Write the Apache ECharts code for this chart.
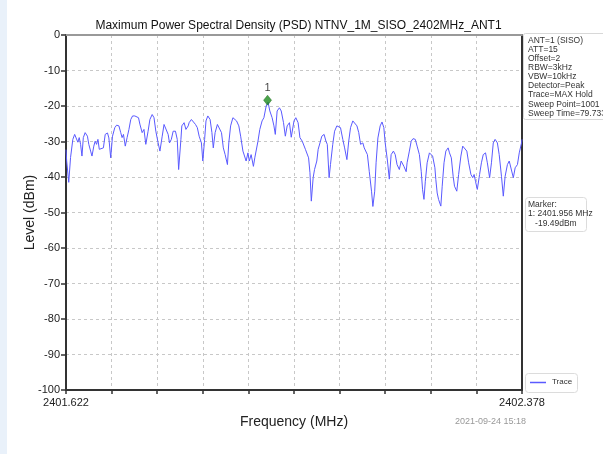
<!DOCTYPE html>
<html>
<head>
<meta charset="utf-8">
<script src="https://cdn.jsdelivr.net/npm/echarts@6/dist/echarts.min.js"></script>
<style>
html,body{margin:0;padding:0;background:#fff;}
#c{width:603px;height:454px;}
</style>
</head>
<body>
<div id="c"></div>
<script>
const title = 'Maximum Power Spectral Density (PSD) NTNV_1M_SISO_2402MHz_ANT1';
const startMHz = 2401.622;
const stopMHz = 2402.378;
const sweepPoints = 1001;
const yTicks = [0, -10, -20, -30, -40, -50, -60, -70, -80, -90, -100];
const infoLines = ['ANT=1 (SISO)', 'ATT=15', 'Offset=2', 'RBW=3kHz', 'VBW=10kHz', 'Detector=Peak', 'Trace=MAX Hold', 'Sweep Point=1001', 'Sweep Time=79.733ms'];
const markerLines = ['Marker:', '1: 2401.956 MHz', '   -19.49dBm'];
const markerPoint = 442;
const markerLevel = -19.49;
const timestamp = '2021-09-24 15:18';

const sweepIndex = [0,1.5,6,10,15,19,23,26,29,32,35,38,42,47,50,54,57,61,64,67,70,73,77,82,86,91,94,98,102,107,111,116,120,123,126,130,134,138,142,146,151,155,159,162,167,171,175,180,184,189,193,197,202,206,211,215,219,224,227,231,235,240,244,247,252,254,259,263,268,270,275,279,284,288,292,297,300,304,307,311,316,320,323,327,332,336,341,345,349,354,357,361,366,370,374,379,383,388,392,395,399,402,406,411,414,418,421,425,430,434,439,443,447,452,456,459,463,468,472,477,481,485,490,494,500,504,509,513,518,520,525,529,532,535,538,542,545,550,553,557,561,566,570,573,577,580,585,589,594,598,602,607,611,616,620,624,629,633,638,642,646,651,654,656,661,665,670,673,677,680,684,689,693,697,700,705,709,713,718,722,726,731,735,741,746,748,753,757,761,766,770,775,779,782,785,788,792,797,801,804,809,811,814,817,822,825,829,833,838,841,845,849,852,857,861,866,870,874,879,883,888,892,895,898,902,907,911,915,920,924,929,933,937,941,946,950,955,959,963,968,972,976,981,985,990,994,999,1000];
const levelDbm = [-32.3,-35.5,-41.5,-34.5,-29.4,-28.0,-28.5,-30.2,-28.9,-30.8,-34.1,-28.9,-27.5,-28.5,-30.8,-32.7,-34.1,-31.3,-29.9,-30.8,-29.4,-32.2,-32.7,-31.8,-28.0,-27.6,-29.0,-34.6,-28.5,-26.1,-25.4,-25.6,-27.5,-28.9,-28.0,-31.3,-28.9,-26.6,-23.8,-22.8,-22.8,-23.1,-23.3,-25.1,-27.5,-26.6,-30.8,-27.1,-23.8,-22.4,-23.3,-27.1,-30.4,-32.7,-28.5,-25.2,-24.7,-28.0,-30.4,-29.4,-27.1,-27.1,-29.4,-37.9,-29.4,-25.6,-24.7,-26.6,-25.6,-24.7,-23.8,-23.8,-25.2,-26.1,-28.5,-30.4,-35.5,-29.4,-24.2,-22.8,-23.8,-27.5,-31.8,-27.5,-25.2,-24.7,-27.5,-31.8,-33.7,-36.5,-30.4,-25.6,-23.3,-22.8,-24.2,-25.6,-28.5,-32.7,-32.7,-35.5,-33.2,-35.5,-33.7,-37.0,-34.6,-35.1,-29.9,-26.6,-24.2,-23.3,-20.0,-18.9,-21.4,-23.3,-25.6,-28.0,-21.4,-20.5,-21.4,-24.7,-28.5,-25.6,-24.7,-28.8,-24.2,-23.3,-24.7,-28.9,-29.9,-29.4,-32.2,-32.2,-34.6,-38.8,-46.8,-40.2,-37.9,-35.5,-32.2,-30.4,-28.5,-28.0,-29.9,-30.8,-40.2,-36.5,-30.8,-27.1,-25.6,-25.2,-26.1,-29.4,-31.8,-35.1,-29.9,-26.1,-24.2,-23.8,-25.6,-27.5,-30.8,-30.4,-31.8,-31.3,-33.7,-38.4,-44.0,-48.3,-44.0,-36.0,-29.0,-25.6,-24.5,-26.1,-30.4,-35.5,-40.6,-33.7,-32.7,-33.7,-36.5,-37.9,-35.5,-37.0,-38.5,-36.0,-32.7,-29.9,-29.2,-29.4,-31.3,-33.7,-38.4,-43.6,-46.3,-41.2,-36.0,-33.2,-32.7,-34.1,-37.4,-40.7,-44.5,-46.3,-48.2,-42.6,-36.0,-32.7,-31.8,-33.2,-34.6,-39.8,-42.6,-44.0,-39.3,-34.1,-31.3,-31.1,-32.7,-36.0,-39.3,-40.2,-39.3,-41.2,-43.5,-39.3,-36.0,-33.7,-33.2,-36.0,-40.2,-36.0,-30.4,-29.4,-30.4,-33.7,-39.8,-45.4,-39.8,-36.5,-35.5,-36.0,-40.2,-37.4,-36.5,-33.2,-30.4,-29.4,-30.0];

const step = (stopMHz - startMHz) / (sweepPoints - 1);
const traceData = sweepIndex.map((p, i) => [p, levelDbm[i]]);
const FONT = 'Liberation Sans, Arial, sans-serif';

const chart = echarts.init(document.getElementById('c'));
const infoGraphics = infoLines.map((t, i) => ({
  type: 'text', left: 528, top: 36 + i * 9.1,
  style: { text: t, font: '8.5px ' + FONT, fill: '#333' }, z: 10
}));
const markerGraphics = markerLines.map((t, i) => ({
  type: 'text', left: 528, top: 200 + i * 9.6,
  style: { text: t, font: '8.5px ' + FONT, fill: '#333' }, z: 10
}));

chart.setOption({
  animation: false,
  backgroundColor: '#ffffff',
  title: {
    text: title, left: 293.5, textAlign: 'center', top: 15,
    textStyle: { fontSize: 12, fontWeight: 'normal', color: '#111', fontFamily: FONT }
  },
  grid: { left: 66, right: 81, top: 35, bottom: 64 },
  xAxis: [{
    type: 'value', min: 0, max: sweepPoints - 1, interval: 100,
    name: 'Frequency (MHz)', nameLocation: 'middle', nameGap: 25,
    nameTextStyle: { fontSize: 14, color: '#222', fontFamily: FONT },
    axisLine: { show: true, onZero: false, lineStyle: { color: '#333', width: 2 } },
    axisTick: { show: true, length: 4, lineStyle: { color: '#333', width: 1.5 } },
    axisLabel: {
      show: true, fontSize: 11, color: '#222', fontFamily: FONT, margin: 7,
      formatter: v => (v === 0 || v === sweepPoints - 1) ? (startMHz + v * step).toFixed(3) : ''
    },
    splitLine: { show: true, lineStyle: { color: '#c8c8c8', type: [3, 3], width: 1 } }
  }, {
    type: 'value', position: 'top', min: 0, max: sweepPoints - 1,
    axisLine: { show: true, onZero: false, lineStyle: { color: '#999', width: 2 } },
    axisTick: { show: false }, axisLabel: { show: false }, splitLine: { show: false }
  }],
  yAxis: [{
    type: 'value', min: -100, max: 0, interval: 10,
    name: 'Level (dBm)', nameLocation: 'middle', nameGap: 29, nameMoveOverlap: false,
    nameTextStyle: { fontSize: 14, color: '#222', fontFamily: FONT },
    axisLine: { show: true, onZero: false, lineStyle: { color: '#333', width: 2 } },
    axisTick: { show: true, length: 5, lineStyle: { color: '#333', width: 1.5 } },
    axisLabel: { fontSize: 11, color: '#222', fontFamily: FONT, margin: 6,
      formatter: v => yTicks.includes(v) ? String(v) : '' },
    splitLine: { show: true, lineStyle: { color: '#c8c8c8', type: [3, 3], width: 1 } }
  }, {
    type: 'value', position: 'right', min: -100, max: 0,
    axisLine: { show: true, onZero: false, lineStyle: { color: '#333', width: 2 } },
    axisTick: { show: false }, axisLabel: { show: false }, splitLine: { show: false }
  }],
  series: [{
    name: 'Trace', type: 'line', data: traceData, showSymbol: false,
    lineStyle: { color: '#5a5aff', width: 1 }, itemStyle: { color: '#5a5aff' }, z: 3
  }, {
    name: 'Marker', type: 'scatter', data: [[markerPoint, markerLevel]],
    symbol: 'diamond', symbolSize: [8, 10], symbolOffset: [0, -4],
    itemStyle: { color: '#1e8c1e', borderColor: '#0f5f0f', borderWidth: 0.5 },
    label: { show: true, position: 'top', distance: 1, formatter: '1', fontSize: 11, color: '#111', fontFamily: FONT },
    z: 5
  }],
  graphic: [
    { type: 'rect', left: 0, top: 0, shape: { width: 7, height: 454 }, style: { fill: '#e9f1fa' }, z: -1 },
    { type: 'rect', left: 523, top: 33, shape: { width: 84, height: 86, r: 2 }, style: { fill: '#fff', stroke: '#d8d8d8', lineWidth: 1 }, z: 9 },
    ...infoGraphics,
    { type: 'rect', left: 525, top: 197, shape: { width: 61, height: 34, r: 3 }, style: { fill: '#fff', stroke: '#dcdcdc', lineWidth: 1 }, z: 9 },
    ...markerGraphics,
    { type: 'rect', left: 525, top: 373, shape: { width: 52, height: 19, r: 3 }, style: { fill: '#fff', stroke: '#dcdcdc', lineWidth: 1 }, z: 9 },
    { type: 'line', shape: { x1: 530, y1: 382.5, x2: 546, y2: 382.5 }, style: { stroke: '#5a5aff', lineWidth: 1.5 }, z: 10 },
    { type: 'text', left: 552, top: 378, style: { text: 'Trace', font: '8px ' + FONT, fill: '#333' }, z: 10 },
    { type: 'text', left: 455, top: 417, style: { text: timestamp, font: '9px ' + FONT, fill: '#999' }, z: 10 }
  ]
});
</script>
</body>
</html>
